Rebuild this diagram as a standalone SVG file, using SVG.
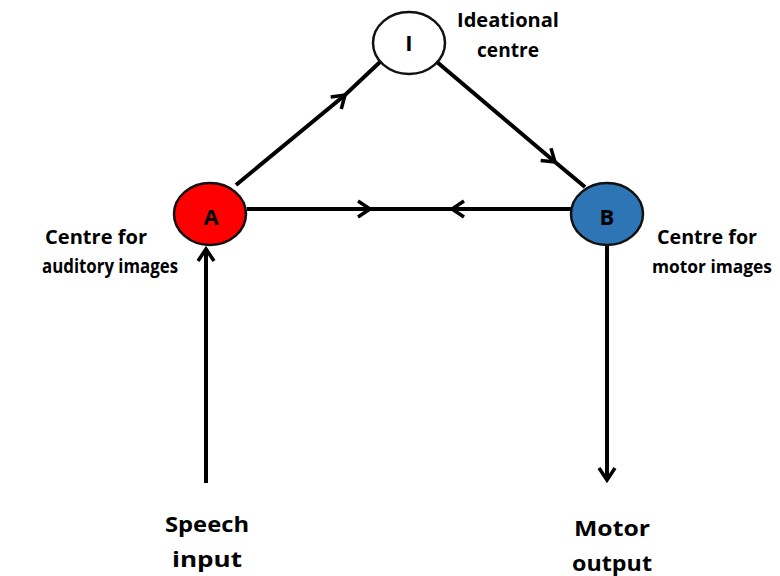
<svg xmlns="http://www.w3.org/2000/svg" width="780" height="576" viewBox="0 0 780 576">
<defs>
<style>
.ln{fill:none;stroke:#000;stroke-width:4;stroke-linecap:butt}
.nd{stroke:#111;stroke-width:2.5}
.t{font-family:"Open Sans","Liberation Sans",sans-serif;font-weight:bold;fill:#000;text-anchor:middle}
.lbl{font-size:19.5px}
.sm{font-size:17px}
.big{font-size:22px}
.let{font-size:22px}
</style>
<marker id="chev" markerUnits="userSpaceOnUse" markerWidth="30" markerHeight="30" viewBox="-15 -15 30 30" refX="0" refY="0" orient="auto" overflow="visible">
<path d="M-12,-8 L0,0 L-12,8" fill="none" stroke="#000" stroke-width="3.5" stroke-linejoin="miter"/>
</marker>
</defs>
<rect width="780" height="576" fill="#fff"/>
<g id="connectors">
<path class="ln" d="M236,185 L345,95 L380,62" marker-mid="url(#chev)"/>
<path class="ln" d="M437,62 L555,162 L585,187" marker-mid="url(#chev)"/>
<path class="ln" d="M247,209 L370,209 L412,209" marker-mid="url(#chev)"/>
<path class="ln" d="M572,209 L452,209 L410,209" marker-mid="url(#chev)"/>
<path class="ln" d="M206,483 L206,249" marker-end="url(#chev)"/>
<path class="ln" d="M607,245 L607,480" marker-end="url(#chev)"/>
</g>
<g id="node-I">
<ellipse class="nd" cx="409" cy="43" rx="36" ry="31" fill="#fff"/>
<text class="t let" x="409" y="51">I</text>
<text class="t lbl" x="508" y="27" textLength="102" lengthAdjust="spacingAndGlyphs">Ideational</text>
<text class="t lbl" x="508" y="57" textLength="62" lengthAdjust="spacingAndGlyphs">centre</text>
</g>
<g id="node-A">
<ellipse class="nd" cx="210" cy="214" rx="36" ry="31" fill="#ff0000"/>
<text class="t let" x="211" y="225">A</text>
<text class="t lbl" x="96" y="244" textLength="102" lengthAdjust="spacingAndGlyphs">Centre for</text>
<text class="t lbl" x="110" y="273" textLength="136" lengthAdjust="spacingAndGlyphs">auditory images</text>
</g>
<g id="node-B">
<ellipse class="nd" cx="607" cy="214" rx="36" ry="31" fill="#2e75b6"/>
<text class="t let" x="607" y="225">B</text>
<text class="t lbl" x="707" y="244" textLength="100" lengthAdjust="spacingAndGlyphs">Centre for</text>
<text class="t sm" x="712" y="273" textLength="120" lengthAdjust="spacingAndGlyphs">motor images</text>
</g>
<g id="speech-input">
<text class="t big" x="207" y="532" textLength="84" lengthAdjust="spacingAndGlyphs">Speech</text>
<text class="t big" x="207" y="567" textLength="70" lengthAdjust="spacingAndGlyphs">input</text>
</g>
<g id="motor-output">
<text class="t big" x="612" y="536" textLength="76" lengthAdjust="spacingAndGlyphs">Motor</text>
<text class="t big" x="612" y="571" textLength="80" lengthAdjust="spacingAndGlyphs">output</text>
</g>
</svg>
